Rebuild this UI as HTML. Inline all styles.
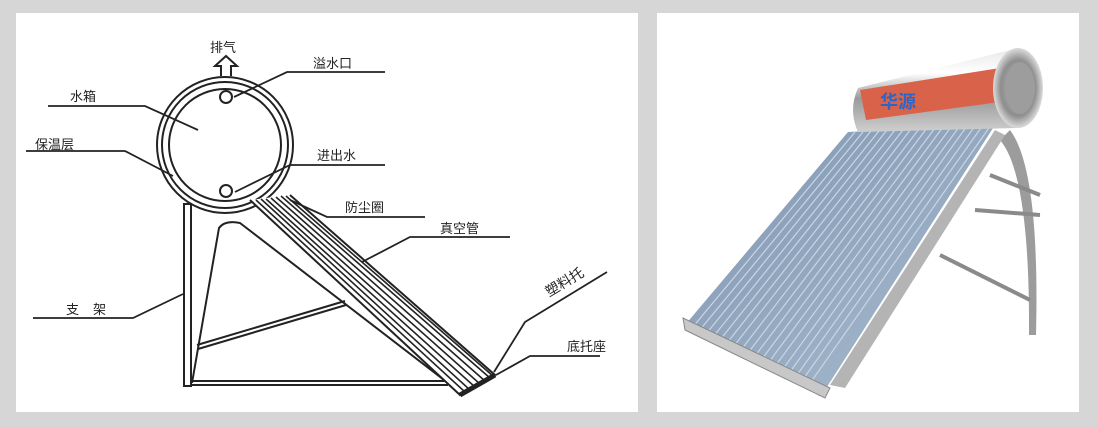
<!DOCTYPE html>
<html><head><meta charset="utf-8"><style>
html,body{margin:0;padding:0;background:#d6d6d6;}
svg{display:block}
text{font-family:"Liberation Sans","Noto Sans CJK SC",sans-serif;font-size:13px;fill:#222;}
</style></head><body>
<svg width="1098" height="428" viewBox="0 0 1098 428" xmlns="http://www.w3.org/2000/svg">
<defs>
<linearGradient id="steel" x1="0" y1="0" x2="0" y2="1">
<stop offset="0" stop-color="#e8e8e8"/><stop offset="0.3" stop-color="#ffffff"/><stop offset="0.6" stop-color="#9a9a9a"/><stop offset="1" stop-color="#cfcfcf"/></linearGradient>
<linearGradient id="tubes" x1="0" y1="0" x2="1" y2="1">
<stop offset="0" stop-color="#7f95b0"/><stop offset="1" stop-color="#a9bcd0"/></linearGradient>
<radialGradient id="cap" cx="0.5" cy="0.5" r="0.5"><stop offset="0" stop-color="#b9b9b9"/><stop offset="0.7" stop-color="#8e8e8e"/><stop offset="1" stop-color="#dcdcdc"/></radialGradient>
</defs>
<rect x="16" y="13" width="622" height="399" fill="#fff"/>
<rect x="657" y="13" width="422" height="399" fill="#fff"/>

<g stroke="#222" fill="none" stroke-width="2">
<circle cx="225" cy="145" r="68"/>
<circle cx="225" cy="145" r="63"/>
<circle cx="225" cy="145" r="56"/>
<circle cx="226" cy="97" r="6" fill="#fff"/>
<circle cx="226" cy="191" r="6" fill="#fff"/>
<path d="M221 76 V66 H215 L226 56 L237 66 H231 V76" fill="#fff"/>
<rect x="184" y="204" width="7" height="182" fill="#fff"/>
<path d="M191 381 H448 M191 385 H448"/>
<path d="M192 383 L219 228 Q225 220 240 223 L448 383"/>
<path d="M197 345 L345 301 M198 349 L346 305"/>
<path d="M250 200 L460 395 L495 375 L290 195" fill="#fff"/>
<path d="M256 200 L465 392 M261 199 L470 390 M266 199 L475 387 M271 198 L480 384 M276 197 L485 381 M281 196 L490 378 M286 196 L493 376" stroke-width="1.6"/>
<path d="M460 395 L495 375" stroke-width="5"/>
<g stroke-width="1.8">
<path d="M385 72 H287 L234 97"/>
<path d="M48 106 H145 L198 130"/>
<path d="M26 151 H125 L173 176"/>
<path d="M385 165 H290 L235 192"/>
<path d="M425 217 H327 L290 200"/>
<path d="M510 237 H410 L362 262"/>
<path d="M33 318 H133 L183 294"/>
<path d="M607 272 L525 322 L494 372"/>
<path d="M600 356 H530 L496 375"/>
</g>
</g>
<text x="210" y="52">排气</text>
<text x="313" y="68">溢水口</text>
<text x="70" y="101">水箱</text>
<text x="35" y="149">保温层</text>
<text x="317" y="160">进出水</text>
<text x="345" y="212">防尘圈</text>
<text x="440" y="233">真空管</text>
<text x="66" y="314" letter-spacing="14">支架</text>
<text x="0" y="0" transform="translate(549,297) rotate(-31)" style="font-size:14px">塑料托</text>
<text x="567" y="351">底托座</text>

<g>
<path d="M1010 130 Q1040 170 1036 335 L1029 335 Q1030 175 1000 140 Z" fill="#9c9c9c"/>
<path d="M990 175 L1040 195 M975 210 L1040 215 M940 255 L1030 300" stroke="#8a8a8a" stroke-width="4" fill="none"/>
<path d="M995 130 L830 385 L845 388 L1005 135 Z" fill="#b4b4b4"/>
<path d="M975 150 L818 395" stroke="#7e7e7e" stroke-width="4"/>
<path d="M848 132 L995 125 L825 390 L685 325 Z" fill="url(#tubes)"/>
<g stroke="#c9d6e3" stroke-width="1.2">
<path d="M855 132 L692 328 M863 132 L699 331 M871 131 L706 334 M879 131 L713 337 M887 130 L720 340 M895 130 L727 343 M903 130 L734 346 M911 129 L741 350 M919 129 L748 353 M927 128 L755 356 M935 128 L762 359 M943 127 L769 362 M951 127 L776 365 M959 127 L783 369 M967 126 L790 372 M975 126 L797 375 M983 125 L804 378 M991 125 L811 382"/>
</g>
<path d="M683 318 L685 330 L825 398 L830 388 Z" fill="#c8c8c8" stroke="#888"/>
<path d="M858 88 Q848 110 858 132 L1018 128 L1018 48 Z" fill="url(#steel)"/>
<path d="M860 90 L1000 68 L1000 102 L866 120 Z" fill="#d9634a"/>
<text x="880" y="108" style="font-size:18px;font-weight:bold;fill:#2a66c8">华源</text>
<ellipse cx="1018" cy="88" rx="25" ry="40" fill="url(#cap)"/>
<ellipse cx="1020" cy="88" rx="15" ry="26" fill="#9d9d9d"/>
</g>
</svg>
</body></html>
